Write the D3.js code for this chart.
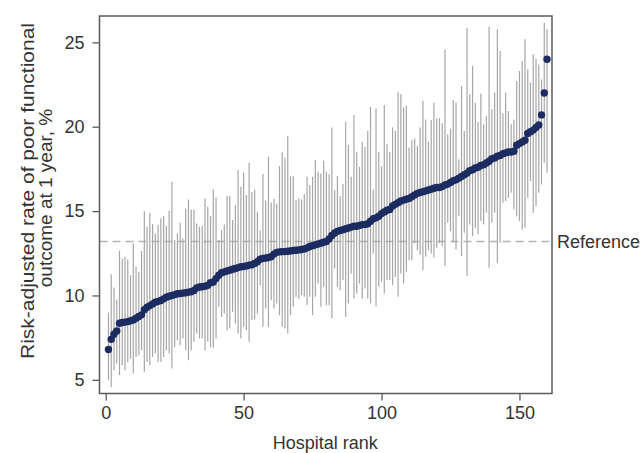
<!DOCTYPE html>
<html>
<head>
<meta charset="utf-8">
<script src="https://cdn.jsdelivr.net/npm/d3@7"></script>
<style>
  body { margin: 0; background: #fff; }
  text { font-family: "Liberation Sans", Arial, Helvetica, sans-serif; fill: #333; }
</style>
</head>
<body>
<div id="chart"></div>
<script>
// risk-adjusted estimate per hospital, ordered by rank 1..160
const estimate = [
    6.8, 7.4, 7.7, 7.9, 8.35, 8.4, 8.42, 8.45, 8.5, 8.55,
    8.65, 8.75, 8.85, 9.15, 9.3, 9.4, 9.5, 9.6, 9.65, 9.7,
    9.8, 9.9, 9.95, 10.0, 10.05, 10.1, 10.12, 10.14, 10.16, 10.2,
    10.22, 10.3, 10.45, 10.5, 10.52, 10.55, 10.6, 10.75, 10.8, 11.0,
    11.2, 11.35, 11.4, 11.45, 11.5, 11.55, 11.6, 11.65, 11.7, 11.72,
    11.75, 11.8, 11.82, 11.9, 12.0, 12.15, 12.2, 12.22, 12.25, 12.3,
    12.45, 12.55, 12.58, 12.6, 12.6, 12.62, 12.64, 12.66, 12.68, 12.7,
    12.72, 12.76, 12.82, 12.9, 12.95, 13.0, 13.05, 13.1, 13.15, 13.2,
    13.35, 13.55, 13.7, 13.8, 13.85, 13.9, 13.95, 14.0, 14.05, 14.1,
    14.1, 14.15, 14.2, 14.2, 14.25, 14.4, 14.55, 14.6, 14.7, 14.85,
    14.95, 15.05, 15.1, 15.3, 15.4, 15.5, 15.6, 15.65, 15.7, 15.75,
    15.85, 15.95, 16.05, 16.1, 16.15, 16.2, 16.25, 16.3, 16.35, 16.4,
    16.4, 16.45, 16.55, 16.6, 16.7, 16.8, 16.85, 16.95, 17.05, 17.15,
    17.25, 17.4, 17.45, 17.55, 17.6, 17.7, 17.75, 17.85, 17.95, 18.1,
    18.15, 18.25, 18.3, 18.4, 18.45, 18.5, 18.5, 18.55, 18.9, 19.0,
    19.1, 19.2, 19.6, 19.7, 19.8, 19.95, 20.1, 20.7, 22.0, 24.0
];

// upper limit of the interval
const upper = [
    8.97, 11.26, 10.47, 9.76, 12.65, 12.19, 12.29, 12.13, 11.2, 13.08,
    11.7, 11.4, 12.63, 15.0, 14.07, 14.9, 14.23, 13.67, 14.17, 14.56,
    14.7, 14.11, 15.02, 16.74, 13.28, 13.67, 14.31, 13.38, 15.16, 15.69,
    15.1, 15.1, 14.27, 14.07, 14.11, 15.75, 15.25, 14.7, 16.3, 15.81,
    13.28, 13.87, 14.21, 15.89, 15.89, 14.47, 15.35, 17.43, 16.44, 17.27,
    15.95, 17.86, 16.15, 16.28, 14.96, 13.87, 17.19, 15.61, 18.22, 15.51,
    15.71, 15.45, 17.67, 18.48, 18.18, 19.45, 17.07, 17.07, 15.65, 15.75,
    15.69, 16.01, 17.03, 16.54, 17.03, 18.02, 17.33, 17.23, 17.98, 17.33,
    17.19, 19.96, 16.24, 17.07, 15.89, 16.6, 20.29, 18.91, 17.03, 20.69,
    18.51, 17.62, 19.11, 18.81, 19.74, 21.18, 16.28, 21.08, 18.51, 17.66,
    21.28, 18.97, 18.51, 19.96, 19.76, 22.07, 21.93, 21.14, 21.22, 18.77,
    19.21, 19.3, 18.85, 19.96, 21.54, 20.43, 19.11, 20.39, 21.42, 20.49,
    20.5, 20.2, 24.58, 19.54, 19.88, 21.58, 21.42, 18.06, 22.41, 19.74,
    25.87, 21.92, 23.6, 21.42, 20.28, 21.97, 20.14, 20.63, 25.93, 21.03,
    22.01, 25.77, 24.48, 20.79, 22.01, 20.93, 20.14, 20.43, 22.71, 23.3,
    23.89, 25.18, 23.4, 22.61, 24.29, 24.03, 23.69, 22.8, 26.16, 25.77
];

// lower limit of the interval
const lower = [
    4.98, 4.58, 5.57, 5.97, 5.27, 5.87, 5.57, 6.06, 6.26, 5.37,
    6.36, 6.46, 6.76, 5.47, 6.06, 5.87, 6.36, 6.56, 6.06, 6.06,
    6.36, 6.76, 6.56, 5.67, 6.95, 7.35, 7.05, 7.45, 6.76, 6.16,
    6.76, 7.25, 7.75, 7.45, 7.45, 6.76, 7.25, 6.95, 6.9, 7.45,
    9.33, 8.73, 8.93, 7.94, 8.04, 9.03, 8.34, 7.75, 7.45, 8.14,
    7.94, 7.25, 8.54, 8.58, 8.93, 10.61, 8.14, 9.23, 8.14, 9.72,
    9.23, 9.52, 8.83, 8.14, 8.04, 7.75, 8.83, 9.33, 9.92, 9.82,
    10.02, 9.92, 9.43, 9.92, 8.83, 9.92, 10.71, 9.33, 10.51, 9.42,
    9.42, 8.63, 11.6, 10.51, 10.31, 10.91, 8.73, 9.52, 11.3, 9.82,
    10.11, 10.71, 9.82, 10.41, 9.82, 9.52, 12.49, 9.36, 10.51, 10.81,
    10.11, 10.91, 10.91, 10.61, 11.1, 9.92, 11.3, 10.71, 11.4, 12.09,
    12.09, 13.08, 12.68, 12.39, 11.5, 12.29, 12.68, 12.49, 12.25, 12.84,
    13.1, 12.92, 11.74, 14.31, 13.81, 13.12, 12.73, 14.7, 12.33, 13.71,
    11.15, 14.21, 13.52, 14.01, 13.62, 14.41, 14.21, 14.9, 11.64, 14.31,
    14.9, 11.94, 13.12, 15.49, 15.59, 15.79, 16.09, 15.1, 14.7, 14.41,
    13.91, 14.01, 15.79, 16.78, 14.9, 15.29, 16.09, 16.58, 17.86, 17.27
];

const xTicks = [0, 50, 100, 150];
const yTicks = [5, 10, 15, 20, 25];
const referenceRate = 13.2;

const width = 642;
const height = 453;
const plot = {left: 99.5, right: 552, top: 16, bottom: 393.5};

const hospitals = estimate.map((v, i) => ({rank: i + 1, est: v, lo: lower[i], hi: upper[i]}));

const x = d3.scaleLinear().domain([-2.25, 161.8]).range([plot.left, plot.right]);
const y = d3.scaleLinear().domain([4.19, 26.56]).range([plot.bottom, plot.top]);

const svg = d3.select("#chart")
    .append("svg")
    .attr("width", width)
    .attr("height", height);

// reference line
svg.append("line")
    .attr("x1", plot.left)
    .attr("x2", plot.right)
    .attr("y1", y(referenceRate))
    .attr("y2", y(referenceRate))
    .attr("stroke", "#b3b3b3")
    .attr("stroke-width", 1.4)
    .attr("stroke-dasharray", "8,5");

svg.append("text")
    .attr("x", plot.right + 5)
    .attr("y", y(referenceRate))
    .attr("dy", "0.36em")
    .style("font-size", "18px")
    .text("Reference");

// intervals
svg.append("g")
    .selectAll("line")
    .data(hospitals)
    .enter()
    .append("line")
    .attr("x1", d => x(d.rank))
    .attr("x2", d => x(d.rank))
    .attr("y1", d => y(d.lo))
    .attr("y2", d => y(d.hi))
    .attr("stroke", "#a6a6a6")
    .attr("stroke-width", 1.2);

// point estimates
svg.append("g")
    .selectAll("circle")
    .data(hospitals)
    .enter()
    .append("circle")
    .attr("cx", d => x(d.rank))
    .attr("cy", d => y(d.est))
    .attr("r", 3.7)
    .attr("fill", "#1c2b60");

// frame
svg.append("rect")
    .attr("x", plot.left)
    .attr("y", plot.top)
    .attr("width", plot.right - plot.left)
    .attr("height", plot.bottom - plot.top)
    .attr("fill", "none")
    .attr("stroke", "#5a5a5a")
    .attr("stroke-width", 1.5);

const yAxis = svg.append("g")
    .attr("transform", "translate(" + plot.left + ",0)")
    .call(d3.axisLeft(y).tickValues(yTicks).tickSize(7).tickPadding(8));

const xAxis = svg.append("g")
    .attr("transform", "translate(0," + plot.bottom + ")")
    .call(d3.axisBottom(x).tickValues(xTicks).tickSize(7).tickPadding(6));

[yAxis, xAxis].forEach(function(a) {
    a.select(".domain").remove();
    a.selectAll(".tick line").attr("stroke", "#5a5a5a").attr("stroke-width", 1.3);
    a.selectAll(".tick text")
        .style("font-size", "18px")
        .style("font-family", "'Liberation Sans', Arial, sans-serif")
        .attr("fill", "#333");
});

svg.append("text")
    .attr("x", (plot.left + plot.right) / 2 - 0.5)
    .attr("y", 449)
    .attr("text-anchor", "middle")
    .style("font-size", "18px")
    .text("Hospital rank");

// y title, two lines (rotated)
svg.append("text")
    .attr("transform", "translate(33.5,191) rotate(-90)")
    .attr("text-anchor", "middle")
    .attr("textLength", 336)
    .attr("lengthAdjust", "spacingAndGlyphs")
    .style("font-size", "19px")
    .text("Risk-adjusted rate of poor functional");

svg.append("text")
    .attr("transform", "translate(52,198) rotate(-90)")
    .attr("text-anchor", "middle")
    .style("font-size", "19px")
    .text("outcome at 1 year, %");
</script>
</body>
</html>
